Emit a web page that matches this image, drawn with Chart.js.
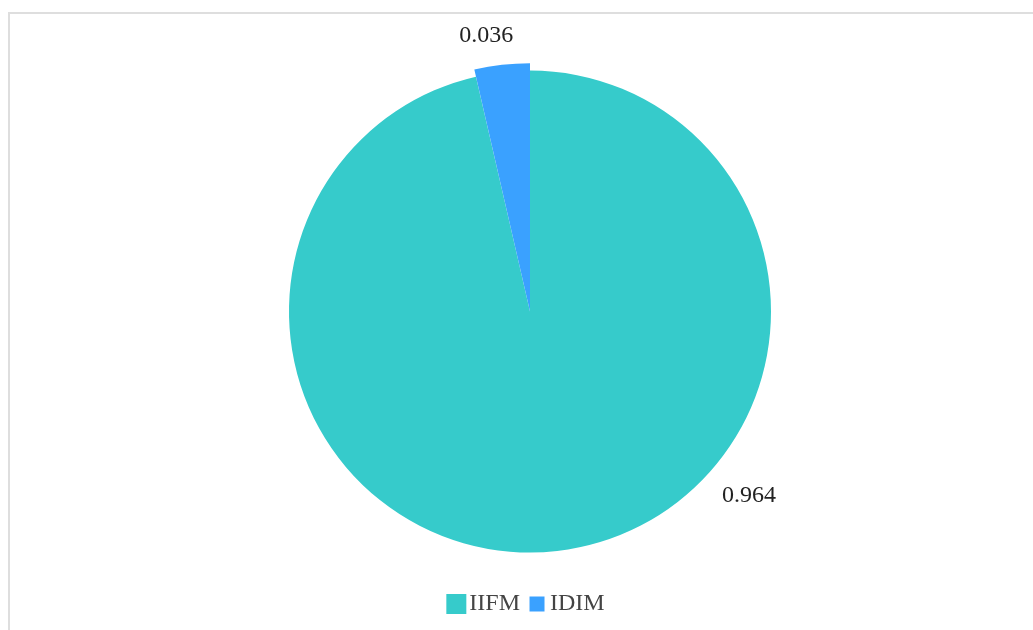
<!DOCTYPE html>
<html>
<head>
<meta charset="utf-8">
<script src="https://cdn.jsdelivr.net/npm/chart.js@4.4.0/dist/chart.umd.min.js"></script>
<style>
  html, body { margin: 0; padding: 0; background: #fff; }
  #frame {
    position: absolute; left: 8px; top: 12px;
    width: 1025px; height: 618px;
    border-top: 2px solid #dedede; border-left: 2px solid #dedede;
  }
  canvas { display: block; }
</style>
</head>
<body>
<div id="frame"><canvas id="pieChart" width="1023" height="616"></canvas></div>
<script>
// data
const categories = ['IIFM', 'IDIM'];
const shares = [0.964, 0.036];
const colors = ['#36CBCB', '#3AA1FF'];

// value labels outside the pie, plain text
const valueLabels = {
  id: 'valueLabels',
  afterDatasetsDraw(chart, args, opts) {
    const ctx = chart.ctx;
    const meta = chart.getDatasetMeta(0);
    const r = meta.controller.outerRadius;
    ctx.save();
    ctx.font = '24px "Liberation Serif", "Times New Roman", serif';
    ctx.fillStyle = '#222';
    ctx.textAlign = 'center';
    ctx.textBaseline = 'middle';
    meta.data.forEach((arc, i) => {
      let a = (arc.startAngle + arc.endAngle) / 2;
      if (opts.angles[i] != null) a = opts.angles[i] * Math.PI / 180;
      const d = r + opts.gap[i];
      ctx.fillText(String(shares[i]), arc.x + Math.cos(a) * d, arc.y + Math.sin(a) * d);
    });
    ctx.restore();
  }
};

// the highlighted slice sticks out a little
const sliceRadius = {
  id: 'sliceRadius',
  afterDatasetsUpdate(chart, args, opts) {
    const meta = chart.getDatasetMeta(0);
    meta.data.forEach((arc, i) => {
      arc.outerRadius = arc.outerRadius * opts.scale[i];
    });
  }
};

new Chart(document.getElementById('pieChart'), {
  type: 'pie',
  data: {
    labels: categories,
    datasets: [{
      data: shares,
      backgroundColor: colors,
      borderWidth: 0
    }]
  },
  plugins: [sliceRadius, valueLabels],
  options: {
    responsive: false,
    animation: false,
    devicePixelRatio: 1,
    radius: 241,
    layout: { padding: { top: 33, bottom: 4, left: 17, right: 0 } },
    plugins: {
      tooltip: { enabled: false },
      sliceRadius: { scale: [1, 1.03] },
      valueLabels: { gap: [45, 38], angles: [40, -99] },
      legend: {
        position: 'bottom',
        labels: {
          font: { family: '"Liberation Serif", "Times New Roman", serif', size: 24 },
          color: '#444',
          boxWidth: 2,
          boxHeight: 2,
          padding: 16,
          generateLabels(chart) {
            return categories.map((c, i) => ({
              text: c,
              fillStyle: colors[i],
              strokeStyle: colors[i],
              lineWidth: i === 0 ? 18 : 13,
              fontColor: '#444',
              index: i
            }));
          }
        }
      }
    }
  }
});
</script>
</body>
</html>
